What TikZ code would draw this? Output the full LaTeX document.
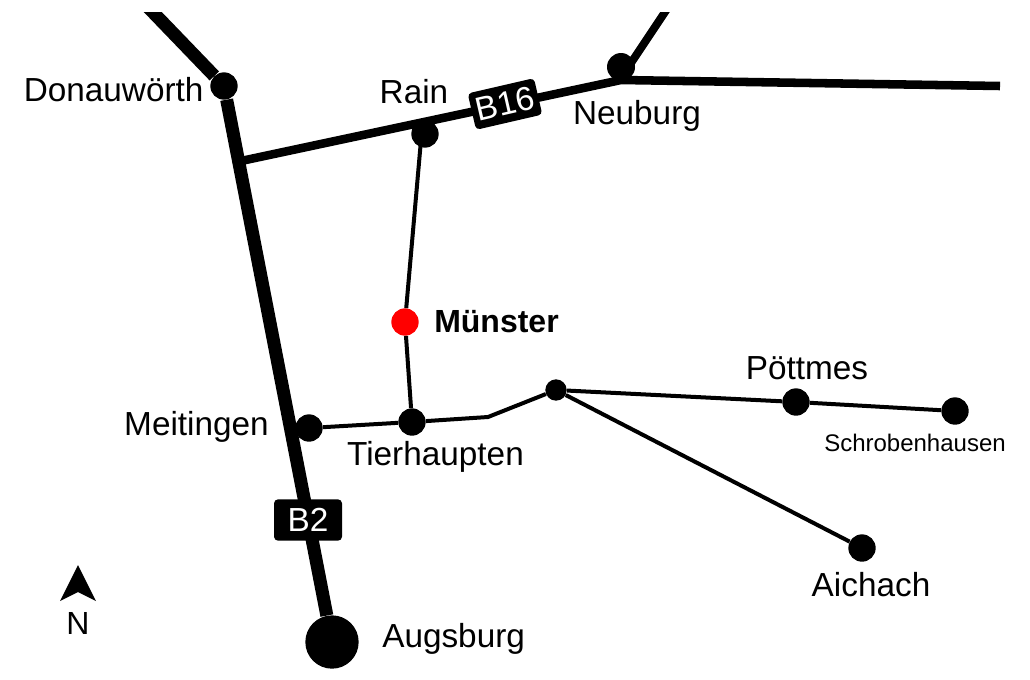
\documentclass[tikz,border=0pt]{standalone}
\usepackage{fontspec}
\setmainfont{Liberation Sans}
\tikzset{
	town/.style={circle,fill=black,inner sep=0pt,minimum size=20.5},
	place/.style={font=\fontsize{25}{28}\selectfont,inner sep=0pt},
	shield/.style={fill=black,text=white,rounded corners=3,inner sep=0pt,font=\fontsize{25}{28}\selectfont},
	major/.style={line width=9.75pt},
	minor/.style={line width=6.4pt},
	small/.style={line width=3pt}
}
\begin{document}
\begin{tikzpicture}[x=0.75pt,y=-0.75pt]
	\useasboundingbox (0,0) rectangle (1030,679);
	\node[town] (donau) at (224,86) {};
	\node[town,minimum size=21] (neuburg) at (621,67) {};
	\node[town] (rain) at (425,134) {};
	\node[town,fill=red] (muenster) at (405,322) {};
	\node[town] (meitingen) at (309,428) {};
	\node[town] (tier) at (412,422) {};
	\node[town,minimum size=16] (cross) at (556,390) {};
	\node[town] (poett) at (796,402) {};
	\node[town] (schroben) at (955,411) {};
	\node[town] (aichach) at (862,548) {};
	\node[town,minimum size=40] (augsburg) at (332,642) {};
	\coordinate (nw) at (146,5);
	\coordinate (ne) at (671,3);
	\coordinate (neroot) at (629,66);
	\coordinate (east) at (1000,86);
	\coordinate (knee) at (621,80);
	\coordinate (fork) at (241,161);
	\coordinate (bend) at (488,417);
	\coordinate (raintop) at (421,140);
	% roads
	\draw[major] (donau) -- (augsburg);
	\begin{scope}
		\clip (0,12) rectangle (1030,679);
		\draw[major] (donau) -- (nw);
		\draw[minor,line width=6pt] (neroot) -- (ne);
	\end{scope}
	\draw[minor] (fork) -- (knee) -- (east);
	\draw[small] (raintop) -- (muenster) -- (tier);
	\draw[small] (meitingen) -- (tier) -- (bend) -- (cross) -- (poett) -- (schroben);
	\draw[small] (cross) -- (aichach);
	\node[shield,minimum width=51,minimum height=28,rotate=13] (b16) at (505,104) {B16};
	\node[shield,minimum width=51,minimum height=31] (b2) at (308,520) {B2};
	% labels
	\node[place,anchor=west] (l1) at (23.5,90) {Donauwörth};
	\node[place] (l2) at (414,92) {Rain};
	\node[place] (l3) at (637,116) {Neuburg};
	\node[place,anchor=west,font=\fontsize{24}{28}\selectfont\bfseries] (l4) at (434,322) {Münster};
	\node[place] (l5) at (196.5,427) {Meitingen};
	\node[place] (l6) at (435.5,457) {Tierhaupten};
	\node[place] (l7) at (807,368) {Pöttmes};
	\node[place,font=\fontsize{18}{20}\selectfont] (l8) at (915,443) {Schrobenhausen};
	\node[place] (l9) at (871,585) {Aichach};
	\node[place,anchor=west] (l10) at (382,639) {Augsburg};
	% north arrow
	\fill (78,565) -- (96,601) -- (78,592) -- (60,601) -- cycle;
	\node[place,font=\fontsize{24}{26}\selectfont] (north) at (78,623) {N};
\end{tikzpicture}
\end{document}
